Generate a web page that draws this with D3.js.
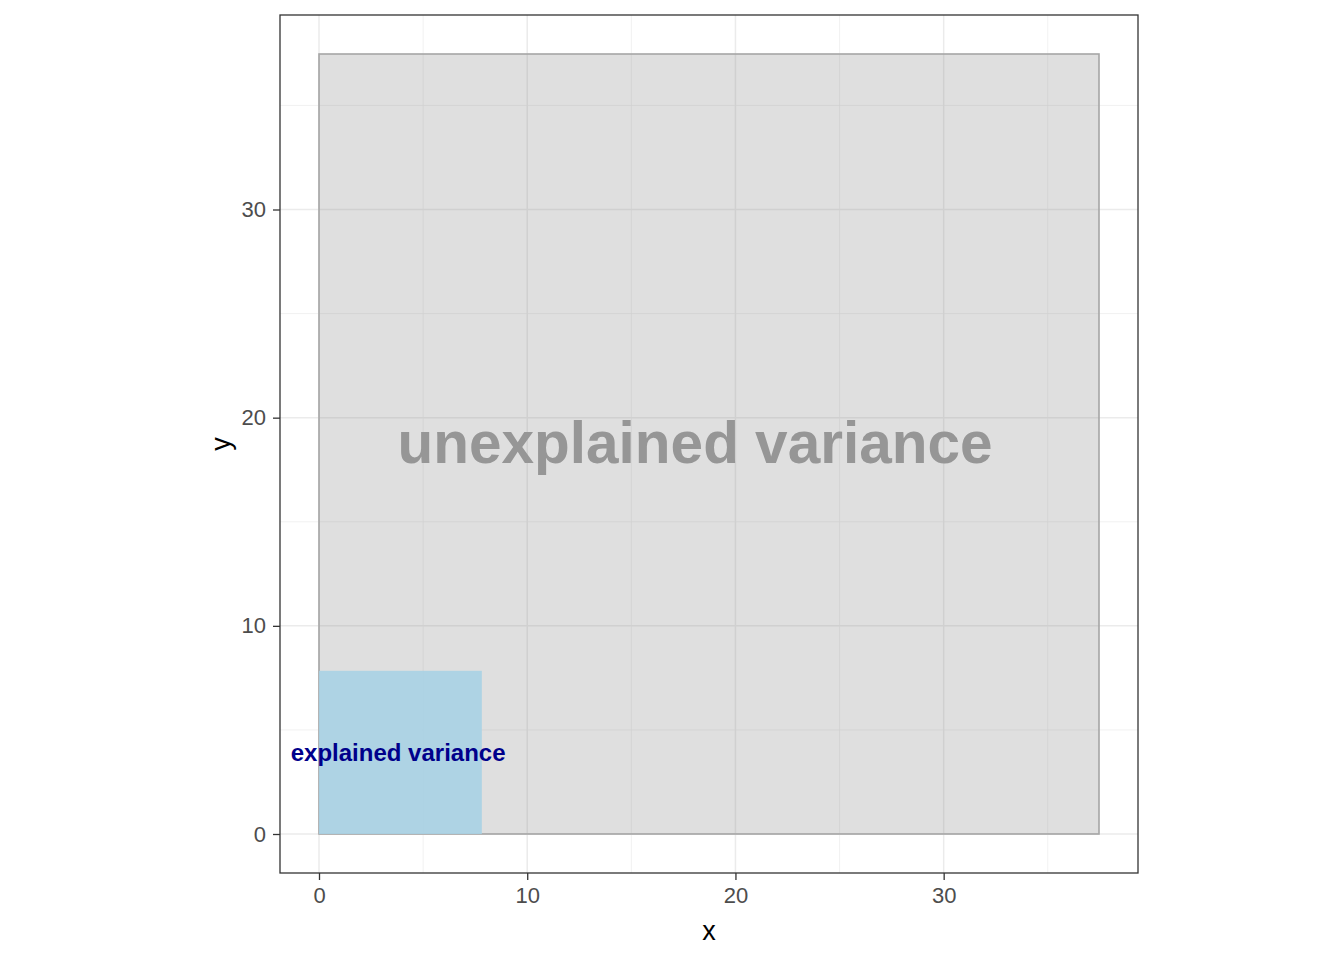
<!DOCTYPE html>
<html>
<head>
<meta charset="utf-8">
<style>
* { margin: 0; padding: 0; }
body { background: #fff; }
svg { display: block; font-family: "Liberation Sans", Arial, sans-serif; }
</style>
</head>
<body>
<script src="https://cdn.jsdelivr.net/npm/d3@7/dist/d3.min.js"></script>
<script>
// rectangles: total variance vs explained variance
var rectNames = ["unexplained", "explained"];
var rectX1 = [37.46, 7.82];
var rectY1 = [37.47, 7.84];
var labels = ["unexplained variance", "explained variance"];
var labelX = [18.06, 3.8];
var labelY = [18.8, 3.9];
var majorTicks = [0, 10, 20, 30];
var minorTicks = [5, 15, 25, 35];

var width = 1344, height = 960;
var margin = { top: 15, right: 206, bottom: 87, left: 280 };

var svg = d3.select("body").append("svg")
  .attr("width", width)
  .attr("height", height);

// ggplot style 5% expansion
var xmax = d3.max(rectX1), ymax = d3.max(rectY1);
var x = d3.scaleLinear()
  .domain([-xmax * 0.05, xmax * 1.05])
  .range([margin.left, width - margin.right]);
var y = d3.scaleLinear()
  .domain([-ymax * 0.05, ymax * 1.05])
  .range([height - margin.bottom, margin.top]);

var pw = width - margin.right - margin.left;
var ph = height - margin.bottom - margin.top;

// grid
var grid = svg.append("g").attr("stroke", "#ebebeb");
grid.selectAll(".vmin").data(minorTicks).join("line")
  .attr("x1", d => x(d)).attr("x2", d => x(d))
  .attr("y1", margin.top).attr("y2", margin.top + ph)
  .attr("stroke-width", 0.7);
grid.selectAll(".hmin").data(minorTicks).join("line")
  .attr("y1", d => y(d)).attr("y2", d => y(d))
  .attr("x1", margin.left).attr("x2", margin.left + pw)
  .attr("stroke-width", 0.7);
grid.selectAll(".vmaj").data(majorTicks).join("line")
  .attr("x1", d => x(d)).attr("x2", d => x(d))
  .attr("y1", margin.top).attr("y2", margin.top + ph)
  .attr("stroke-width", 1.5);
grid.selectAll(".hmaj").data(majorTicks).join("line")
  .attr("y1", d => y(d)).attr("y2", d => y(d))
  .attr("x1", margin.left).attr("x2", margin.left + pw)
  .attr("stroke-width", 1.5);

// rectangles
var fills = ["#7f7f7f", "#a8d1e4"];
var alphas = [0.25, 0.9];
var strokes = ["#a6a6a6", "none"];
svg.append("g").selectAll("rect")
  .data(rectNames)
  .join("rect")
  .attr("x", (d, i) => x(0))
  .attr("y", (d, i) => y(rectY1[i]))
  .attr("width", (d, i) => x(rectX1[i]) - x(0))
  .attr("height", (d, i) => y(0) - y(rectY1[i]))
  .attr("fill", (d, i) => fills[i])
  .attr("fill-opacity", (d, i) => alphas[i])
  .attr("stroke", (d, i) => strokes[i])
  .attr("stroke-width", 1.6);

// labels
var lsize = [58.5, 24];
var lcol = ["#969696", "#00008b"];
svg.append("g").selectAll("text")
  .data(labels)
  .join("text")
  .attr("x", (d, i) => x(labelX[i]))
  .attr("y", (d, i) => y(labelY[i]))
  .attr("dy", "0.35em")
  .attr("text-anchor", "middle")
  .attr("font-weight", "bold")
  .attr("font-size", (d, i) => lsize[i])
  .attr("fill", (d, i) => lcol[i])
  .text(d => d);

// panel border
svg.append("rect")
  .attr("x", margin.left).attr("y", margin.top)
  .attr("width", pw).attr("height", ph)
  .attr("fill", "none").attr("stroke", "#333333").attr("stroke-width", 1.3);

// axes
var xAxis = svg.append("g")
  .attr("transform", `translate(0,${margin.top + ph})`)
  .call(d3.axisBottom(x).tickValues(majorTicks).tickSize(7).tickPadding(7));
var yAxis = svg.append("g")
  .attr("transform", `translate(${margin.left},0)`)
  .call(d3.axisLeft(y).tickValues(majorTicks).tickSize(7).tickPadding(7));
[xAxis, yAxis].forEach(function(a) {
  a.select(".domain").remove();
  a.selectAll(".tick line").attr("stroke", "#333333").attr("stroke-width", 1.3);
  a.selectAll(".tick text").attr("fill", "#4d4d4d").attr("font-size", 22)
    .attr("font-family", "Liberation Sans, Arial, sans-serif");
});

// axis titles
svg.append("text")
  .attr("x", margin.left + pw / 2)
  .attr("y", 940)
  .attr("text-anchor", "middle")
  .attr("font-size", 27)
  .text("x");
svg.append("text")
  .attr("transform", `translate(230,${margin.top + ph / 2}) rotate(-90)`)
  .attr("text-anchor", "middle")
  .attr("font-size", 27)
  .text("y");
</script>
</body>
</html>
